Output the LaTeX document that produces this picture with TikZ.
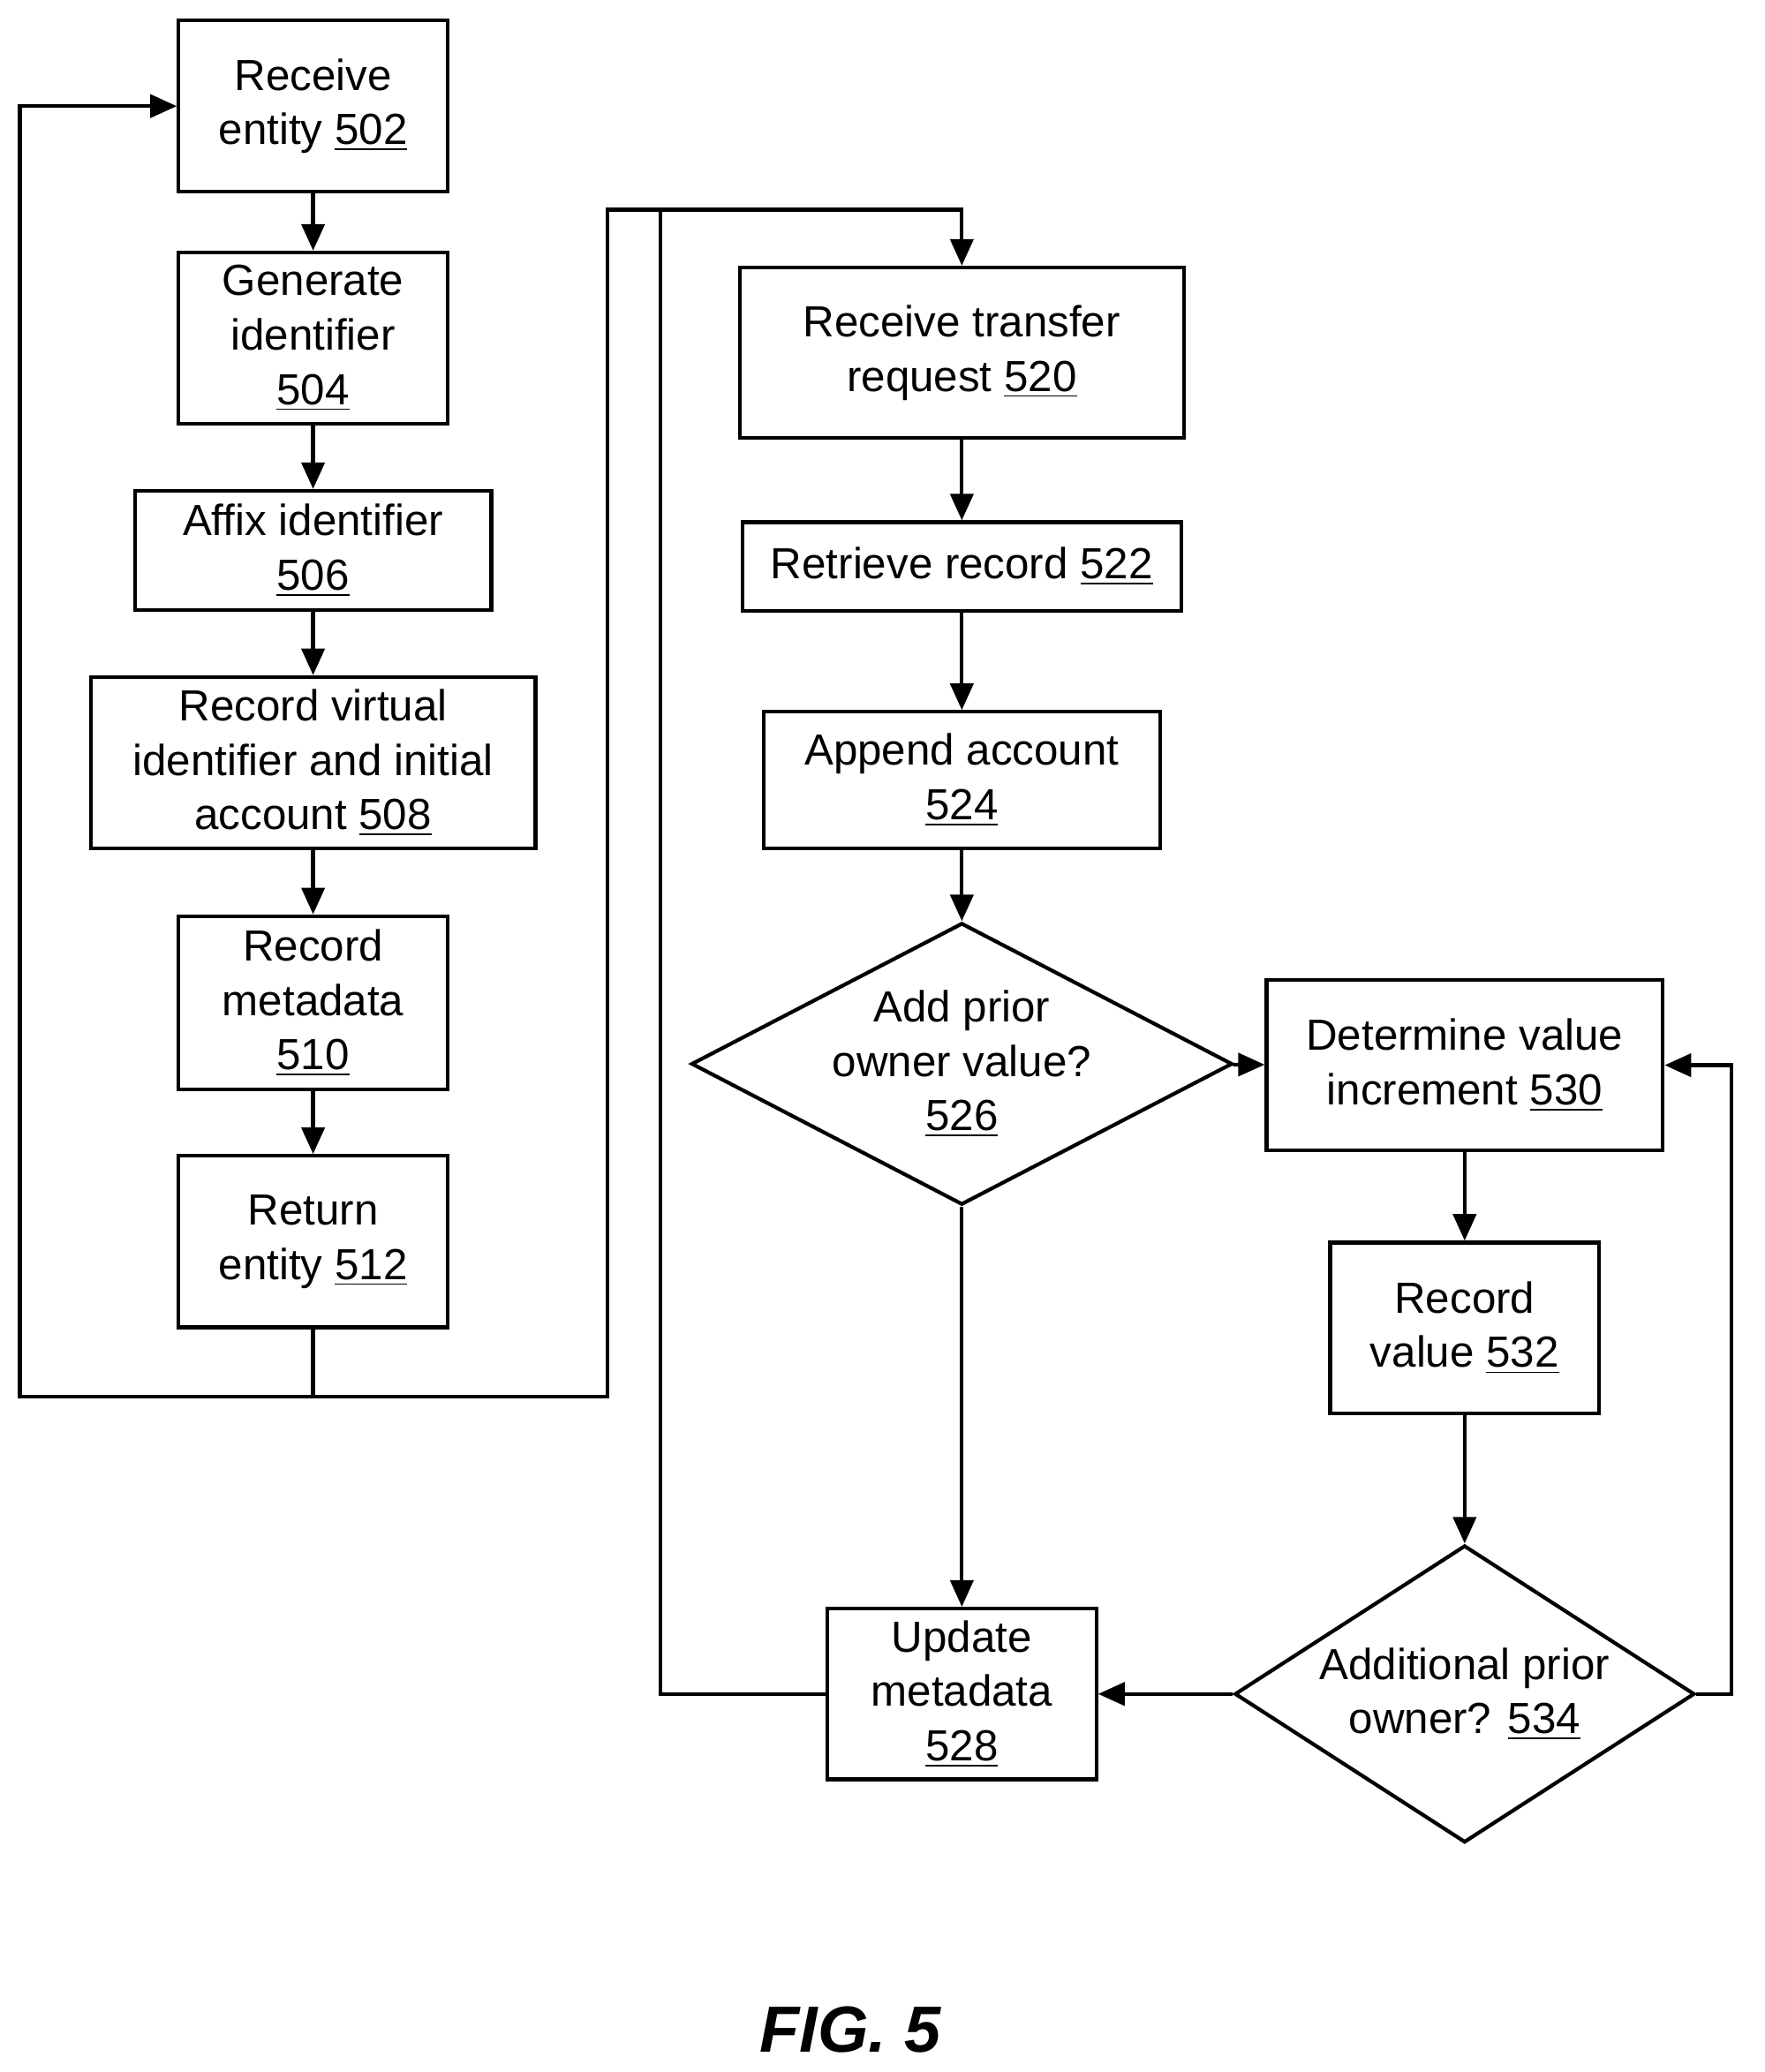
\documentclass[tikz,border=0pt]{standalone}
\usepackage{fontspec}
\setmainfont{Liberation Sans}
\usetikzlibrary{arrows.meta}
\usetikzlibrary{positioning, shapes.geometric}

\begin{document}
\begin{tikzpicture}[x=0.015cm, y=-0.015cm,
  every node/.style={font=\fontsize{14}{17.5}\selectfont, align=center},
  procbox/.style={rectangle, draw, line width=1.2pt, inner sep=0pt},
  decbox/.style={diamond, draw, line width=1.2pt, inner sep=0pt},
  flow/.style={line width=1.2pt, -{Triangle[length=3mm, width=2.6mm]}},
  plainline/.style={line width=1.2pt}]
  \useasboundingbox (0,0) rectangle (1330,1562);
	% --- Left column ---
	\node[procbox, minimum width=3.04cm, minimum height=1.94cm] (recv) at (236,80) {Receive\\entity \underline{502}};
	\node[procbox, minimum width=3.04cm, minimum height=1.94cm] (gen) at (236,255) {Generate\\identifier\\\underline{504}};
	\node[procbox, minimum width=4.03cm, minimum height=1.35cm] (affix) at (236,415) {Affix identifier\\\underline{506}};
	\node[procbox, minimum width=5.03cm, minimum height=1.94cm] (rec) at (236,575) {Record virtual\\identifier and initial\\account \underline{508}};
	\node[procbox, minimum width=3.04cm, minimum height=1.96cm] (meta) at (236,756) {Record\\metadata\\\underline{510}};
	\node[procbox, minimum width=3.04cm, minimum height=1.94cm] (ret) at (236,936) {Return\\entity \underline{512}};
	% --- Middle column ---
	\node[procbox, minimum width=5.02cm, minimum height=1.93cm] (req) at (725,266) {Receive transfer\\request \underline{520}};
	\node[procbox, minimum width=4.96cm, minimum height=1.0cm] (retr) at (725,427) {Retrieve record \underline{522}};
	\node[procbox, minimum width=4.48cm, minimum height=1.54cm] (app) at (725,588) {Append account\\\underline{524}};
	\node[decbox, aspect=1.92, minimum width=5.02cm, minimum height=2.61cm] (prior) at (725,802) {Add prior\\owner value?\\\underline{526}};
	\node[procbox, minimum width=3.04cm, minimum height=1.93cm] (upd) at (725,1277) {Update\\metadata\\\underline{528}};
	% --- Right column ---
	\node[decbox, aspect=1.55, minimum width=5.2cm, minimum height=3.36cm] (more) at (1104,1277) {Additional prior\\owner? \underline{534}};
	\node[procbox, minimum width=4.48cm, minimum height=1.93cm] (incr) at (1104,803) {Determine value\\increment \underline{530}};
	\node[procbox, minimum width=3.04cm, minimum height=1.93cm] (val) at (1104,1001) {Record\\value \underline{532}};
	\node[font=\fontsize{21}{25}\selectfont\bfseries\itshape] (fig) at (641,1530) {FIG. 5};

	\coordinate (loopL) at (15,1053);
	\coordinate (split) at (236,1053);
	\coordinate (join) at (498,158);

	% --- Connectors ---
	\draw[flow] (recv) -- (gen);
	\draw[flow] (gen) -- (affix);
	\draw[flow] (affix) -- (rec);
	\draw[flow] (rec) -- (meta);
	\draw[flow] (meta) -- (ret);
	\draw[flow] (ret.south) -- (split) -- (loopL) |- (recv.west);
	\draw[flow] (split) -- (458,1053) -- (458,158) -| (req.north);
	\draw[flow] (req) -- (retr);
	\draw[flow] (retr) -- (app);
	\draw[flow] (app) -- (prior);
	\draw[flow] (prior) -- (incr);
	\draw[flow] (prior) -- (upd);
	\draw[flow] (incr) -- (val);
	\draw[flow] (val) -- (more);
	\draw[flow] (more) -- (upd);
	\draw[flow] (more.east) -- (1305,1277) |- (incr.east);
	\draw[plainline] (upd.west) -| (join);
\end{tikzpicture}
\end{document}
